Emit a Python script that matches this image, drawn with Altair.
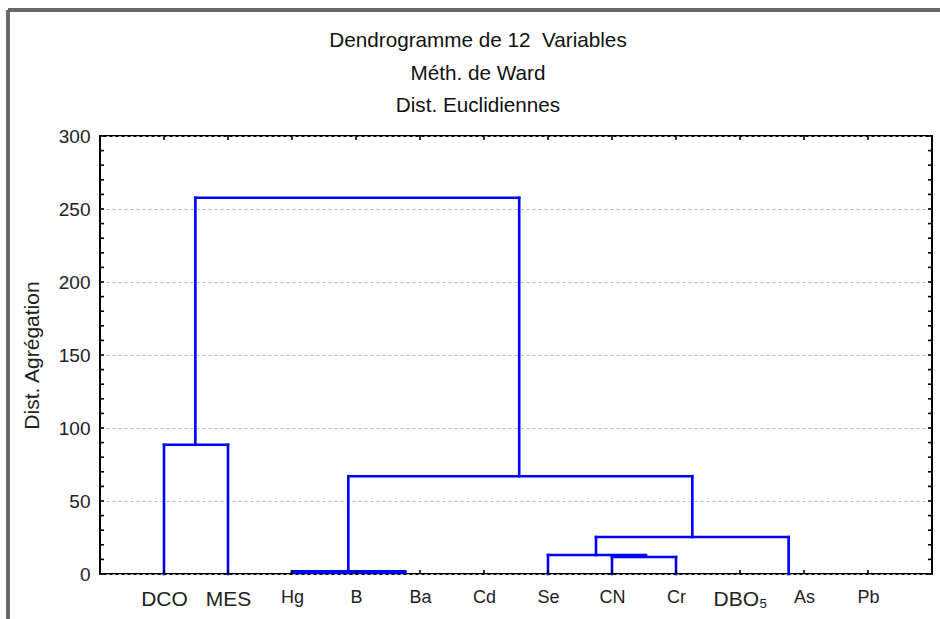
import altair as alt
import pandas as pd

# ---- data ----
variables = ["DCO", "MES", "Hg", "B", "Ba", "Cd", "Se", "CN", "Cr", "DBO\u2085", "As", "Pb"]
positions = [1, 2, 3, 4, 5, 6, 7, 8, 9, 10, 11, 12]

# dendrogram links (x in leaf-position units, y in aggregation distance)
seg_x  = [1.0, 2.0, 1.0, 1.49, 1.49, 6.55, 3.88, 3.88, 3.0, 3.0, 9.255, 7.75, 10.76, 7.75, 7.0, 8.0, 7.0, 8.0, 8.0, 9.0]
seg_x2 = [1.0, 2.0, 2.0, 1.49, 6.55, 6.55, 9.255, 3.88, 4.77, 4.77, 9.255, 10.76, 10.76, 7.75, 8.53, 8.53, 7.0, 9.0, 8.0, 9.0]
seg_y  = [0.0, 0.0, 88.5, 88.5, 257.7, 67.0, 67.0, 1.2, 1.0, 1.8, 25.3, 25.3, 0.0, 13.0, 13.0, 12.3, 0.0, 11.6, 0.0, 0.0]
seg_y2 = [88.5, 88.5, 88.5, 257.7, 257.7, 257.7, 67.0, 67.0, 1.0, 1.8, 67.0, 25.3, 25.3, 25.3, 13.0, 12.3, 13.0, 11.6, 11.6, 11.6]

y_major = [0, 50, 100, 150, 200, 250, 300]
y_minor = [0, 10, 20, 30, 40, 50, 60, 70, 80, 90, 100, 110, 120, 130, 140, 150,
           160, 170, 180, 190, 200, 210, 220, 230, 240, 250, 260, 270, 280, 290, 300]

title_lines = ["Dendrogramme de 12\u00a0 Variables", "M\u00e9th. de Ward", "Dist. Euclidiennes"]

W, H = 832, 438
FONT = "Liberation Sans"

segs = pd.DataFrame({"x": seg_x, "x2": seg_x2, "y": seg_y, "y2": seg_y2})
ticks_y = pd.DataFrame({"v": y_minor})
ticks_x = pd.DataFrame({"p": positions})
titles = pd.DataFrame({"text": ["\n".join(title_lines)]})

xs = alt.Scale(domain=[0, 13], nice=False, zero=False)
ys = alt.Scale(domain=[0, 300], nice=False)

label_expr = "[''," + ",".join("'" + v + "'" for v in variables) + "][datum.value]"

links = alt.Chart(segs).mark_rule(color="#0000ff", strokeWidth=2.6, strokeCap="square").encode(
    x=alt.X("x:Q", scale=xs, axis=alt.Axis(
        values=positions, labelExpr=label_expr, ticks=False, grid=False, domain=False,
        labelPadding=14, labelColor="#222222", labelFont=FONT,
        labelFontSize={"condition": {"test": "datum.value <= 2 || datum.value == 10", "value": 21}, "value": 18},
        title=None)),
    x2="x2:Q",
    y=alt.Y("y:Q", scale=ys, axis=alt.Axis(
        values=y_major, ticks=False, grid=True, gridColor="#bbbbbb", gridDash=[3, 3], gridWidth=1,
        domain=False, labelPadding=10, labelFontSize=19, labelFont=FONT, labelColor="#222222",
        title="Dist. Agr\u00e9gation", titleFont=FONT, titleFontSize=21, titleFontWeight="normal",
        titleColor="#222222", titlePadding=16)),
    y2="y2:Q",
)

tick_style = dict(color="black", strokeWidth=1.6)
left_ticks = alt.Chart(ticks_y).mark_rule(**tick_style).encode(
    y=alt.Y("v:Q", scale=ys), x=alt.value(0), x2=alt.value(4))
right_ticks = alt.Chart(ticks_y).mark_rule(**tick_style).encode(
    y=alt.Y("v:Q", scale=ys), x=alt.value(W - 4), x2=alt.value(W))
bottom_ticks = alt.Chart(ticks_x).mark_rule(**tick_style).encode(
    x=alt.X("p:Q", scale=xs), y=alt.value(H - 4), y2=alt.value(H))
top_ticks = alt.Chart(ticks_x).mark_rule(**tick_style).encode(
    x=alt.X("p:Q", scale=xs), y=alt.value(0), y2=alt.value(4))

frame_style = dict(color="#666666", strokeWidth=2.4)
frame_left = alt.Chart(ticks_x).mark_rule(**frame_style).encode(
    x=alt.value(-92), y=alt.value(-126), y2=alt.value(H + 60))
frame_top = alt.Chart(ticks_x).mark_rule(**frame_style).encode(
    x=alt.value(-92), x2=alt.value(W + 20), y=alt.value(-126))

title_text = alt.Chart(titles).mark_text(
    font=FONT, fontSize=20.7, color="#111111", align="center", baseline="middle",
    lineBreak="\n", lineHeight=32.5
).encode(
    text="text:N",
    x=alt.value(378),
    y=alt.value(-95),
)

chart = alt.layer(
    links, left_ticks, right_ticks, bottom_ticks, top_ticks, frame_left, frame_top, title_text
).properties(
    width=W, height=H,
    padding={"left": 100, "top": 136, "right": 8, "bottom": 45},
    autosize="none",
).configure_view(stroke="black", strokeWidth=2)

chart.save("out.html", embed_options={"renderer": "svg", "actions": False})
